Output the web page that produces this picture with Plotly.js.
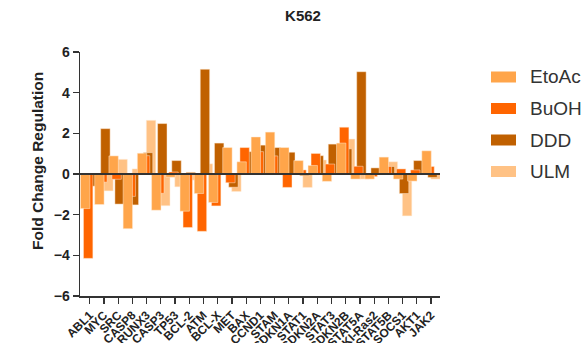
<!DOCTYPE html>
<html>
<head>
<meta charset="utf-8">
<script src="https://cdn.plot.ly/plotly-3.0.1.min.js"></script>
<style>html,body{margin:0;padding:0;background:#fff;}#chart{width:585px;height:343px;}</style>
</head>
<body>
<div id="chart"></div>
<script>
const categories = ['ABL1','MYC','SRC','CASP8','RUNX3','CASP3','TP53','BCL-2','ATM','BCL-X','MET','BAX','CCND1','STAM','CDKN1A','STAT1','CDKN2A','STAT3','CDKN2B','STAT5A','KI-Ras2','STAT5B','SOCS1','AKT1','JAK2'];
const etoac = [-1.7,-1.5,0.89,-2.69,1.02,-1.78,-0.16,-1.83,-0.96,-1.4,1.3,0.6,1.82,2.06,1.3,0.66,0.42,-0.36,1.52,-0.25,-0.25,0.83,-0.25,-0.35,1.14];
const buoh  = [-4.15,-0.4,-0.26,-1.1,0.9,-0.95,0.1,-2.63,-2.82,-1.57,-0.43,1.3,1.1,0.89,-0.66,0.2,1.01,0.49,2.3,0.38,-0.13,0.37,0.25,0.2,0.37];
const ddd   = [-0.6,2.23,-1.48,-1.52,1.05,2.48,0.66,0.08,5.15,1.52,-0.65,1.1,1.42,1.3,1.07,-0.08,0.9,1.47,1.24,5.03,0.3,0.37,-0.96,0.66,-0.17];
const ulm   = [-0.3,-0.83,0.72,0.25,2.64,-1.56,-0.63,-0.3,0.5,1.0,-0.86,0.6,1.0,0.9,0.5,-0.66,0.69,0.8,1.72,-0.25,0.2,0.6,-2.06,0.4,-0.25];
const yTicks = [-6,-4,-2,0,2,4,6];
const seriesNames = ['EtoAc','BuOH','DDD','ULM'];
const seriesData = [etoac, buoh, ddd, ulm];
const colors = ['#FFA54A','#FF6500','#C06000','#FFC285'];
const offsets = [-0.647,-0.436,-0.225,-0.014];
const barWidth = 0.661;

const font = 'Liberation Sans, Arial, sans-serif';
const traces = [];
// drawing order: ULM, DDD, BuOH, EtoAc (EtoAc on top)
for (let s = 3; s >= 0; s--) {
  traces.push({
    type: 'bar', name: seriesNames[s], x: categories, y: seriesData[s],
    offset: offsets[s], width: barWidth,
    marker: {color: colors[s], line: {color: 'rgba(255,236,215,0.8)', width: 0.6}},
    showlegend: false, hoverinfo: 'x+y+name'
  });
}

// legend drawn as shapes + annotations (paper coordinates), to the right of the plot
const W = 360, H = 244, L = 80, B = 296;
const px = v => (v - L) / W;
const py = v => (B - v) / H;
const shapes = [];
const annotations = [{
  text: 'Fold Change Regulation', textangle: -90,
  xref: 'paper', yref: 'paper', x: px(37), y: py(161),
  xanchor: 'center', yanchor: 'middle', showarrow: false,
  font: {family: font, size: 15.5, weight: 'bold', color: '#222'}
}];
seriesNames.forEach((name, i) => {
  const cy = 77 + i * 31.5;
  shapes.push({
    type: 'rect', xref: 'paper', yref: 'paper',
    x0: px(491), x1: px(516), y0: py(cy - 5.5), y1: py(cy + 5.5),
    fillcolor: colors[i], line: {width: 0}
  });
  annotations.push({
    text: name, xref: 'paper', yref: 'paper', x: px(528), y: py(cy),
    xanchor: 'left', yanchor: 'middle', showarrow: false,
    font: {family: font, size: 19, color: '#333'}
  });
});

const layout = {
  width: 585, height: 343,
  margin: {l: 80, r: 145, t: 52, b: 47},
  paper_bgcolor: '#fff', plot_bgcolor: '#fff',
  barmode: 'overlay',
  showlegend: false,
  title: {text: 'K562', font: {family: font, size: 15, weight: 'bold', color: '#222'},
          x: 0.518, xanchor: 'center', y: 0.955, yanchor: 'middle'},
  xaxis: {
    type: 'category', range: [-0.68, 24.63],
    tickmode: 'array', tickvals: categories, ticktext: categories,
    showline: true, linecolor: '#333', linewidth: 1.5,
    ticks: 'outside', ticklen: 6, tickwidth: 1.2, tickcolor: '#333',
    tickangle: -45, tickfont: {family: font, size: 12, weight: 'bold', color: '#222'},
    showgrid: false, zeroline: false, fixedrange: true, automargin: false
  },
  yaxis: {
    range: [-6, 6], tickmode: 'array', tickvals: yTicks,
    showline: true, linecolor: '#333', linewidth: 1.5,
    ticks: 'outside', ticklen: 6, tickwidth: 1.5, tickcolor: '#333',
    tickfont: {family: font, size: 14, weight: 'bold', color: '#222'},
    showgrid: false, zeroline: true, zerolinecolor: '#333', zerolinewidth: 1.5,
    zerolinelayer: 'above traces',
    fixedrange: true, automargin: false
  },
  shapes: shapes,
  annotations: annotations
};
Plotly.newPlot('chart', traces, layout, {displayModeBar: false, staticPlot: true});
</script>
</body>
</html>
